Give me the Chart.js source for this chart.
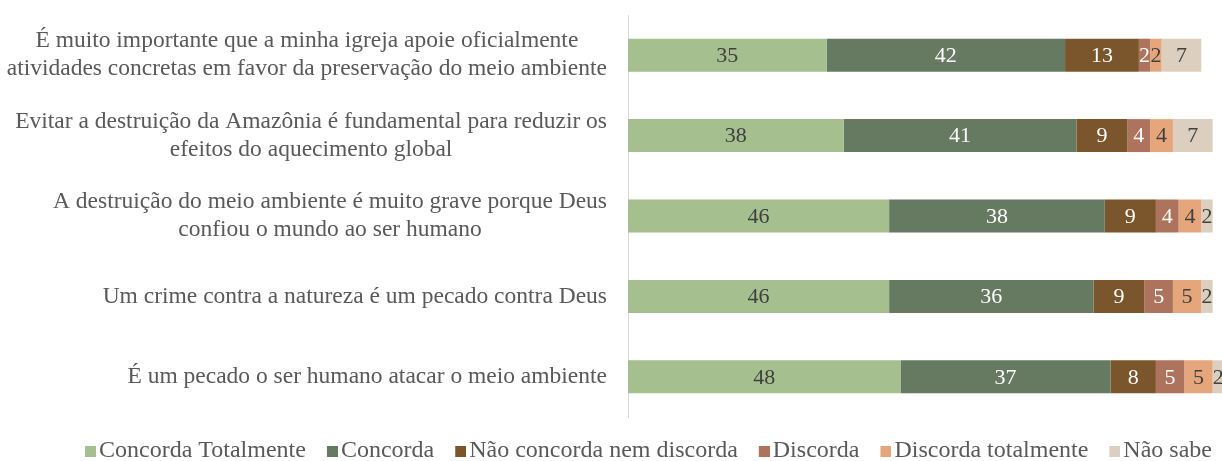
<!DOCTYPE html>
<html>
<head>
<meta charset="utf-8">
<script src="https://cdn.jsdelivr.net/npm/chart.js@4/dist/chart.umd.min.js"></script>
<style>
  html, body { margin: 0; padding: 0; background: #ffffff; overflow: hidden; }
  #wrap { width: 1224px; height: 461px; }
</style>
</head>
<body>
<div id="wrap"><canvas id="chart" width="1224" height="461"></canvas></div>
<script>
// Statements (each entry: lines of the label)
const categories = [
  ["É muito importante que a minha igreja apoie oficialmente", "atividades concretas em favor da preservação do meio ambiente"],
  ["Evitar a destruição da Amazônia é fundamental para reduzir os", "efeitos do aquecimento global"],
  ["A destruição do meio ambiente é muito grave porque Deus", "confiou o mundo ao ser humano"],
  ["Um crime contra a natureza é um pecado contra Deus"],
  ["É um pecado o ser humano atacar o meio ambiente"]
];

const seriesNames = [
  "Concorda Totalmente",
  "Concorda",
  "Não concorda nem discorda",
  "Discorda",
  "Discorda totalmente",
  "Não sabe"
];

// Percentages per statement
const concordaTotalmente     = [35, 38, 46, 46, 48];
const concorda               = [42, 41, 38, 36, 37];
const naoConcordaNemDiscorda = [13,  9,  9,  9,  8];
const discorda               = [ 2,  4,  4,  5,  5];
const discordaTotalmente     = [ 2,  4,  4,  5,  5];
const naoSabe                = [ 7,  7,  2,  2,  2];

const seriesValues = [concordaTotalmente, concorda, naoConcordaNemDiscorda, discorda, discordaTotalmente, naoSabe];
const seriesColors = ["#a6bf8f", "#667961", "#7b552b", "#ae735c", "#e6a67b", "#dccfbf"];
const valueColors  = ["#404040", "#ffffff", "#ffffff", "#ffffff", "#404040", "#404040"];

const FONT = "'Liberation Serif', 'Times New Roman', serif";
const TEXT_GRAY = "#595959";
const LABEL_SIZE = 23.5;
const LEGEND_SIZE = 24;
const VALUE_SIZE = 22;

// Small square swatch placed at the right of a wider transparent image,
// so the square sits close to its legend text.
function swatch(color) {
  const c = document.createElement("canvas");
  c.width = 11 + LEGEND_SIZE - 6;
  c.height = 11;
  const g = c.getContext("2d");
  g.fillStyle = color;
  g.fillRect(c.width - 11, 0, 11, 11);
  return c;
}
const swatches = seriesColors.map(swatch);

// Category labels: block right-aligned against the axis, lines centred within it
const categoryLabels = {
  id: "categoryLabels",
  afterDraw(chart) {
    const { ctx } = chart;
    const y = chart.scales.y;
    const rightEdge = y.right - 21;
    const lineGap = 28;
    ctx.save();
    ctx.font = LABEL_SIZE + "px " + FONT;
    ctx.fillStyle = TEXT_GRAY;
    ctx.textAlign = "center";
    ctx.textBaseline = "middle";
    categories.forEach((lines, i) => {
      const cy = y.getPixelForValue(i);
      const w = Math.max(...lines.map(l => ctx.measureText(l).width));
      const cx = rightEdge - w / 2;
      lines.forEach((l, j) => {
        ctx.fillText(l, cx, cy + (j - (lines.length - 1) / 2) * lineGap);
      });
    });
    ctx.restore();
  }
};

// Value written in the middle of every segment
const segmentValues = {
  id: "segmentValues",
  afterDatasetsDraw(chart) {
    const { ctx } = chart;
    ctx.save();
    ctx.font = VALUE_SIZE + "px " + FONT;
    ctx.textAlign = "center";
    ctx.textBaseline = "middle";
    chart.data.datasets.forEach((ds, i) => {
      const meta = chart.getDatasetMeta(i);
      ctx.fillStyle = valueColors[i];
      meta.data.forEach((bar, j) => {
        const p = bar.getProps(["x", "y", "base"], true);
        ctx.fillText(String(ds.data[j]), (p.x + p.base) / 2, p.y + 1);
      });
    });
    ctx.restore();
  }
};

// Legend sits a little lower and is centred under the whole figure width
const legendPlacement = {
  id: "legendPlacement",
  afterLayout(chart) {
    const lg = chart.legend;
    if (!lg) return;
    lg.left = 64;
    lg.right = 1224;
    lg.top += 10;
    lg.bottom += 10;
  }
};

new Chart(document.getElementById("chart"), {
  type: "bar",
  data: {
    labels: categories.map(c => c.join(" ")),
    datasets: seriesNames.map((name, i) => ({
      label: name,
      data: seriesValues[i],
      backgroundColor: seriesColors[i],
      borderWidth: 0,
      barPercentage: 0.41,
      categoryPercentage: 1.0
    }))
  },
  options: {
    indexAxis: "y",
    responsive: false,
    animation: false,
    events: [],
    layout: { padding: { top: 15, left: 0, right: 0, bottom: 0 } },
    scales: {
      x: { stacked: true, min: 0, max: 105, display: false },
      y: {
        stacked: true,
        grid: { display: false, drawTicks: false },
        border: { display: true, color: "#d9d9d9", width: 1 },
        ticks: { display: false },
        afterFit(scale) { scale.width = 628; }
      }
    },
    plugins: {
      tooltip: { enabled: false },
      legend: {
        position: "bottom",
        align: "center",
        maxHeight: 44,
        labels: {
          usePointStyle: true,
          pointStyleWidth: 11,
          boxHeight: 11,
          padding: 12,
          color: TEXT_GRAY,
          font: { family: FONT, size: LEGEND_SIZE },
          generateLabels(chart) {
            return chart.data.datasets.map((ds, i) => ({
              text: ds.label,
              fillStyle: ds.backgroundColor,
              strokeStyle: ds.backgroundColor,
              lineWidth: 0,
              pointStyle: swatches[i],
              fontColor: TEXT_GRAY,
              hidden: false,
              datasetIndex: i
            }));
          }
        }
      }
    }
  },
  plugins: [categoryLabels, segmentValues, legendPlacement]
});
</script>
</body>
</html>
